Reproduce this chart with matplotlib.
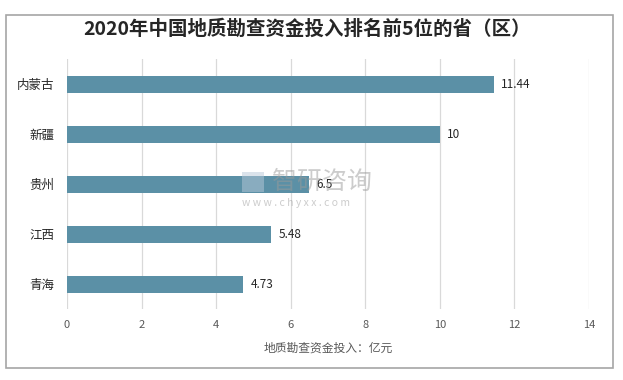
import matplotlib
matplotlib.use("Agg")
import matplotlib.pyplot as plt
from matplotlib.patches import Rectangle

plt.rcParams['font.family'] = ['Noto Sans CJK SC', 'DejaVu Sans']

categories = ["内蒙古", "新疆", "贵州", "江西", "青海"]
values = [11.44, 10, 6.5, 5.48, 4.73]
value_labels = ["11.44", "10", "6.5", "5.48", "4.73"]
xticks = [0, 2, 4, 6, 8, 10, 12, 14]

W, H = 623, 380
fig = plt.figure(figsize=(W / 100, H / 100), dpi=100)
fig.patch.set_facecolor("white")

# outer frame
fig.patches.append(Rectangle((6 / W, 1 - 368 / H), 607 / W, 353 / H,
                             transform=fig.transFigure, fill=False,
                             edgecolor="#a6a6a6", linewidth=1.2))

ax = fig.add_axes([67 / W, 1 - 309 / H, 522 / W, 250 / H])
y = list(range(len(categories)))
ax.barh(y, values, height=0.34, color="#5B90A6", zorder=3)
ax.set_ylim(len(categories) - 0.5, -0.5)
ax.set_xlim(0, 14)
ax.set_xticks(xticks)
ax.set_xticklabels([str(t) for t in xticks], fontsize=8, color="#595959")
ax.set_yticks(y)
ax.set_yticklabels(categories, fontsize=9, color="#262626")
ax.tick_params(axis="both", length=0)
ax.tick_params(axis="x", pad=8)
ax.tick_params(axis="y", pad=9)
ax.grid(axis="x", color="#d9d9d9", linewidth=0.9, zorder=0)
for s in ax.spines.values():
    s.set_visible(False)

for yi, v, lab in zip(y, values, value_labels):
    ax.text(v + 0.2, yi, lab, va="center", ha="left", fontsize=8.5, color="#262626", zorder=4)

ax.set_xlabel("地质勘查资金投入：亿元", fontsize=8.5, color="#595959", labelpad=8)

fig.text(307 / W, 1 - 29 / H, "2020年中国地质勘查资金投入排名前5位的省（区）",
         ha="center", va="center", fontsize=14, fontweight="bold", color="#262626")

# watermark
fig.text(272 / W, 1 - 182 / H, "智研咨询", ha="left", va="center", fontsize=18,
         color="#9a9a9a", alpha=0.5, zorder=2)
fig.text(242 / W, 1 - 203 / H, "w w w . c h y x x . c o m", ha="left", va="center",
         fontsize=7.5, color="#9a9a9a", alpha=0.5, zorder=2)
fig.patches.append(Rectangle((242 / W, 1 - 192 / H), 22 / W, 20 / H,
                             transform=fig.transFigure, facecolor="#b8c8d8",
                             alpha=0.5, edgecolor="none", zorder=10))

fig.savefig("out.png", dpi=100)
